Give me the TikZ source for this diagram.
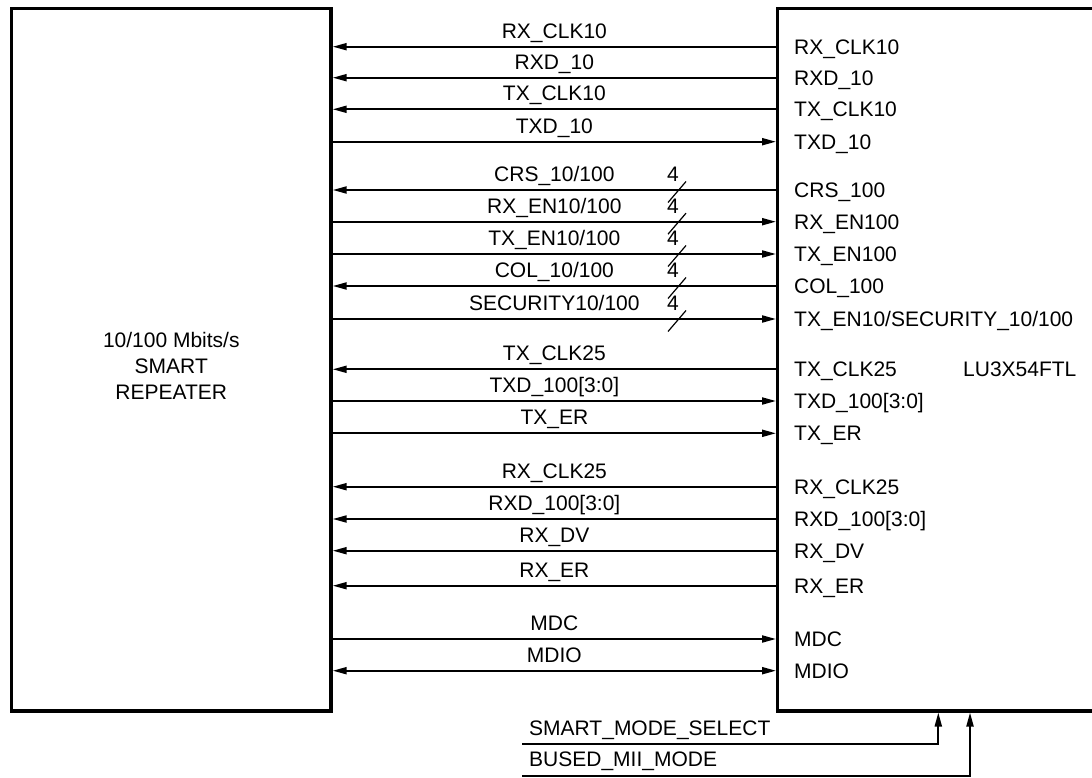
\documentclass[tikz,border=0pt]{standalone}
\usepackage{fontspec}
\setmainfont{Liberation Sans}
\usetikzlibrary{arrows.meta, calc}

\begin{document}
\begin{tikzpicture}[
    x=1pt, y=-1pt,
    every node/.style={font=\fontsize{21}{26}\selectfont, inner sep=0pt},
    box/.style={draw, line width=3.3pt, anchor=north west},
    wire/.style={line width=2pt},
    tip/.style={Triangle[length=14pt, width=7pt]},
    tophy/.style={wire, -{Triangle[length=14pt, width=7pt]}},
    fromphy/.style={wire, {Triangle[length=14pt, width=7pt]}-},
    bidir/.style={wire, {Triangle[length=14pt, width=7pt]}-{Triangle[length=14pt, width=7pt]}},
    pinlbl/.style={anchor=west, inner xsep=18pt, text height=15pt, text depth=0pt},
    wirelbl/.style={anchor=base, yshift=8.5pt},
    busmark/.style={line width=1.2pt}
]

\useasboundingbox (0,0) rectangle (1092,778);
\clip (0,0) rectangle (1092,778);

% Blocks
\node[box, minimum width=319.4, minimum height=702.2] (rep) at (10,7) {};
\node[box, minimum width=400, minimum height=702.2] (phy) at (776,7) {};

\node[align=center] (reptxt) at (171.3,366) {10/100 Mbits/s\\SMART\\REPEATER};
\node[anchor=base west] (chip) at (963,376.8) {LU3X54FTL};

% Single signals
\foreach \n/\y/\wire/\pinname/\dir in {
    1/46.7/RX\_CLK10/RX\_CLK10/fromphy,
    2/77.7/RXD\_10/RXD\_10/fromphy,
    3/109.3/TX\_CLK10/TX\_CLK10/fromphy,
    4/141.7/TXD\_10/TXD\_10/tophy,
    10/369.3/TX\_CLK25/TX\_CLK25/fromphy,
    11/401/TXD\_100[3:0]/TXD\_100[3:0]/tophy,
    12/433.3/TX\_ER/TX\_ER/tophy,
    13/486.7/RX\_CLK25/RX\_CLK25/fromphy,
    14/519/RXD\_100[3:0]/RXD\_100[3:0]/fromphy,
    15/550.7/RX\_DV/RX\_DV/fromphy,
    16/585.7/RX\_ER/RX\_ER/fromphy,
    17/639/MDC/MDC/tophy,
    18/670.7/MDIO/MDIO/bidir} {
    \tikzset{sigdir/.style/.expanded=\dir}
    \node[pinlbl] (pin\n) at (776,\y) {\pinname};
    \draw[sigdir] (pin\n.west -| rep.east) -- (pin\n.west) node[midway, wirelbl] {\wire};
}

% 4-bit buses
\foreach \n/\y/\wire/\pinname/\dir in {
    5/190/{CRS\_10/100}/CRS\_100/fromphy,
    6/221.7/{RX\_EN10/100}/RX\_EN100/tophy,
    7/254/{TX\_EN10/100}/TX\_EN100/tophy,
    8/286/{COL\_10/100}/COL\_100/fromphy,
    9/319/{SECURITY10/100}/{TX\_EN10/SECURITY\_10/100}/tophy} {
    \tikzset{sigdir/.style/.expanded=\dir}
    \node[pinlbl] (pin\n) at (776,\y) {\pinname};
    \draw[sigdir] (pin\n.west -| rep.east) -- (pin\n.west) node[midway, wirelbl] {\wire};
    \coordinate (bus\n) at ([xshift=-99pt]pin\n.west);
    \draw[busmark] ([shift={(-9,12.5)}]bus\n) -- ([shift={(9,-8.5)}]bus\n);
    \node[wirelbl] (bw\n) at ([xshift=-4pt]bus\n) {4};
}

% Mode inputs
\coordinate (msel) at (522,744);
\coordinate (bmii) at (522,776);
\node[anchor=base west] (mseltxt) at ([shift={(7,-9)}]msel) {SMART\_MODE\_SELECT};
\node[anchor=base west] (bmiitxt) at ([shift={(7,-9.3)}]bmii) {BUSED\_MII\_MODE};
\draw[tophy] (msel) -| ([xshift=162.3pt]phy.south west);
\draw[tophy] (bmii) -| ([xshift=194pt]phy.south west);

\end{tikzpicture}
\end{document}
